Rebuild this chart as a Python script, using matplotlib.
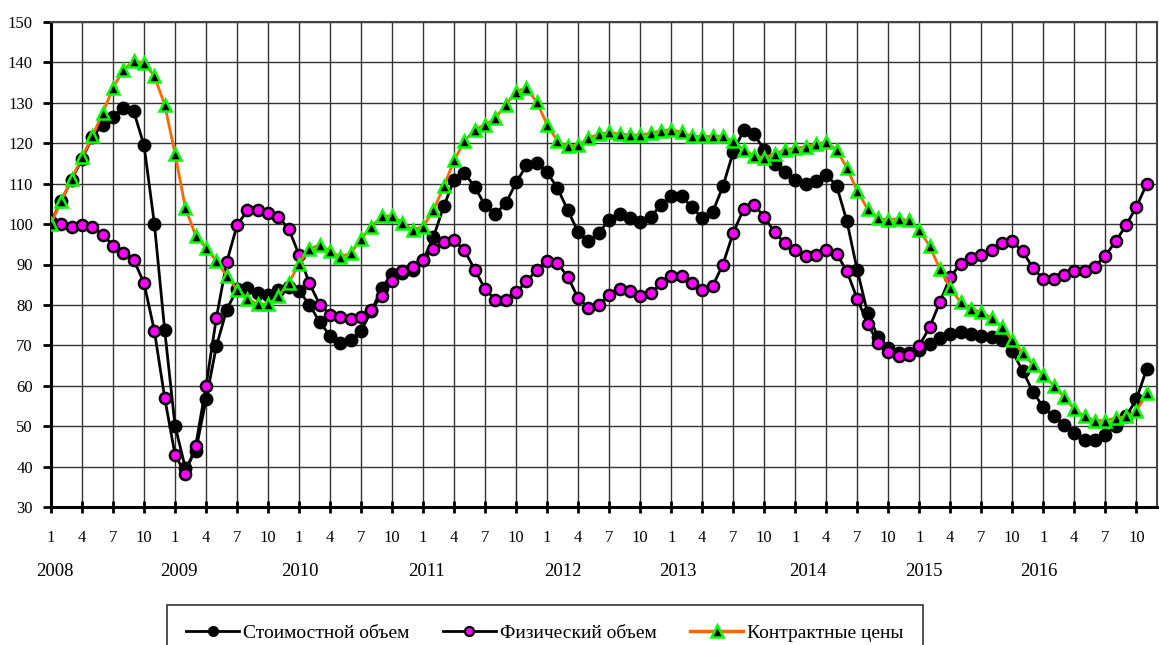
import matplotlib
matplotlib.use("Agg")
import matplotlib.pyplot as plt
from matplotlib.lines import Line2D
from matplotlib.transforms import blended_transform_factory

plt.rcParams['font.family'] = ['Liberation Serif', 'DejaVu Serif']
plt.rcParams['font.serif'] = ['Liberation Serif', 'DejaVu Serif']

years = ["2008", "2009", "2010", "2011", "2012", "2013", "2014", "2015", "2016"]
year_label_pos = [0.4, 12.4, 24.1, 36.3, 49.5, 60.6, 73.2, 84.4, 95.6]
month_labels = ["1", "4", "7", "10"]

value_volume = [100.5, 105.8, 111.0, 116.1, 121.5, 124.6, 126.5, 128.6, 127.9, 119.5,
                100.1, 73.7, 50.1, 39.6, 43.8, 56.6, 69.8, 78.8, 83.9, 84.2,
                83.0, 82.4, 83.6, 84.4, 83.4, 80.1, 75.7, 72.4, 70.7, 71.2,
                73.6, 78.5, 84.2, 87.7, 88.0, 88.6, 91.0, 96.8, 104.4, 111.0,
                112.6, 109.2, 104.6, 102.6, 105.1, 110.3, 114.5, 115.1, 112.8, 108.9,
                103.4, 98.0, 95.7, 97.8, 101.1, 102.6, 101.5, 100.4, 101.8, 104.6,
                107.0, 106.9, 104.2, 101.5, 102.9, 109.3, 117.8, 123.2, 122.3, 118.4,
                114.9, 112.9, 111.0, 109.8, 110.7, 112.2, 109.5, 100.7, 88.6, 78.0,
                72.1, 69.3, 68.1, 68.1, 68.9, 70.4, 71.8, 72.8, 73.2, 72.8,
                72.4, 72.1, 71.2, 68.5, 63.7, 58.5, 54.7, 52.4, 50.4, 48.3,
                46.5, 46.5, 47.9, 50.0, 52.4, 56.6, 64.1]

physical_volume = [100.0, 99.9, 99.4, 99.7, 99.3, 97.4, 94.7, 92.8, 91.2, 85.4,
                   73.6, 57.0, 42.9, 38.2, 45.2, 60.0, 76.8, 90.6, 99.7, 103.4,
                   103.4, 102.7, 101.8, 98.8, 92.4, 85.3, 80.1, 77.6, 76.9, 76.6,
                   76.9, 78.8, 82.3, 86.0, 88.3, 89.5, 91.2, 93.8, 95.6, 96.0,
                   93.5, 88.7, 83.9, 81.3, 81.3, 83.1, 85.8, 88.6, 90.8, 90.4,
                   86.9, 81.7, 79.2, 80.1, 82.5, 83.9, 83.4, 82.3, 82.9, 85.3,
                   87.1, 87.2, 85.4, 83.6, 84.6, 90.0, 97.8, 103.7, 104.8, 101.8,
                   98.0, 95.3, 93.5, 92.2, 92.4, 93.5, 92.7, 88.3, 81.5, 75.3,
                   70.7, 68.3, 67.4, 67.7, 69.9, 74.5, 80.7, 86.9, 90.2, 91.6,
                   92.4, 93.7, 95.3, 95.7, 93.3, 89.1, 86.4, 86.4, 87.5, 88.3,
                   88.3, 89.5, 92.2, 95.7, 99.7, 104.2, 109.9]

contract_prices = [100.1, 105.8, 111.2, 116.5, 121.7, 127.5, 133.7, 138.2, 140.4, 139.9,
                   136.6, 129.5, 117.4, 104.0, 97.1, 94.1, 90.8, 87.2, 83.8, 81.5,
                   80.2, 80.2, 82.1, 85.4, 90.2, 93.8, 94.9, 93.3, 91.9, 92.8,
                   96.3, 99.4, 101.9, 102.1, 100.3, 98.6, 99.4, 103.4, 109.3, 115.8,
                   120.5, 123.4, 124.6, 126.2, 129.5, 132.8, 133.7, 130.1, 124.6, 120.5,
                   119.2, 119.6, 121.3, 122.2, 122.7, 122.3, 122.1, 122.0, 122.5, 123.1,
                   123.4, 122.7, 121.7, 121.7, 121.7, 121.7, 120.5, 118.4, 116.9, 116.4,
                   117.4, 118.4, 118.8, 119.1, 119.9, 120.2, 118.4, 113.9, 108.2, 103.7,
                   101.4, 101.1, 101.3, 100.9, 98.6, 94.5, 88.9, 84.2, 80.6, 79.0,
                   78.2, 76.8, 74.5, 71.2, 68.1, 65.2, 62.7, 60.0, 57.2, 54.2,
                   52.4, 51.4, 51.4, 52.0, 52.4, 53.7, 58.2]

series_names = ["Стоимостной объем", "Физический объем", "Контрактные цены"]

n = len(value_volume)
x = list(range(n))

fig = plt.figure(figsize=(11.59, 6.45), dpi=100)
ax = fig.add_axes([51 / 1159, 1 - 507 / 645, (1157 - 51) / 1159, (507 - 22) / 645])

ax.plot(x, value_volume, color='black', lw=2, marker='o', ms=8.5,
        mfc='black', mec='black', mew=1.5, label=series_names[0], zorder=3)
ax.plot(x, physical_volume, color='black', lw=2, marker='o', ms=8,
        mfc='#FF00FF', mec='black', mew=1.8, label=series_names[1], zorder=4)
ax.plot(x, contract_prices, color='#FF6600', lw=2, marker='^', ms=9,
        mfc='black', mec='#00FF00', mew=1.8, label=series_names[2], zorder=5)

ax.set_xlim(0, 107)
ax.set_ylim(30, 150)
ax.set_yticks(range(30, 151, 10))
ax.set_xticks(range(0, 107, 3))
ax.set_xticklabels([month_labels[(i // 3) % 4] for i in range(0, 107, 3)])
ax.grid(True, color='#333333', lw=1.0)
ax.set_axisbelow(True)

for side in ['left', 'bottom']:
    ax.spines[side].set_linewidth(2.2)
    ax.spines[side].set_color('black')
for side in ['top', 'right']:
    ax.spines[side].set_linewidth(1.5)
    ax.spines[side].set_color('#444444')

ax.tick_params(axis='y', direction='out', length=6, width=2, labelsize=12, pad=7)
ax.tick_params(axis='x', direction='inout', length=9, width=2, labelsize=12, pad=12)
for lbl in ax.get_xticklabels() + ax.get_yticklabels():
    lbl.set_fontfamily(['Liberation Serif', 'DejaVu Serif'])

trans = blended_transform_factory(ax.transData, fig.transFigure)
for yr, pos in zip(years, year_label_pos):
    fig.text(pos, 1 - 571 / 645, yr, transform=trans, ha='center', va='center',
             fontsize=13.5)

handles = [
    Line2D([], [], color='black', lw=2, marker='o', ms=7, mfc='black', mec='black'),
    Line2D([], [], color='black', lw=2, marker='o', ms=6.5, mfc='#FF00FF', mec='black', mew=1.6),
    Line2D([], [], color='#FF6600', lw=2.5, marker='^', ms=8, mfc='black', mec='#00FF00', mew=1.8),
]
leg = fig.legend(handles, series_names, loc='upper left',
                 bbox_to_anchor=(167 / 1159, 1 - 605 / 645), ncol=3,
                 frameon=True, fancybox=False, edgecolor='#333333', framealpha=1,
                 fontsize=14, handlelength=2.7, handletextpad=0.2, columnspacing=1.75,
                 borderpad=1.0, borderaxespad=0)
leg.get_frame().set_linewidth(1.2)

fig.savefig("out.png", dpi=100)
